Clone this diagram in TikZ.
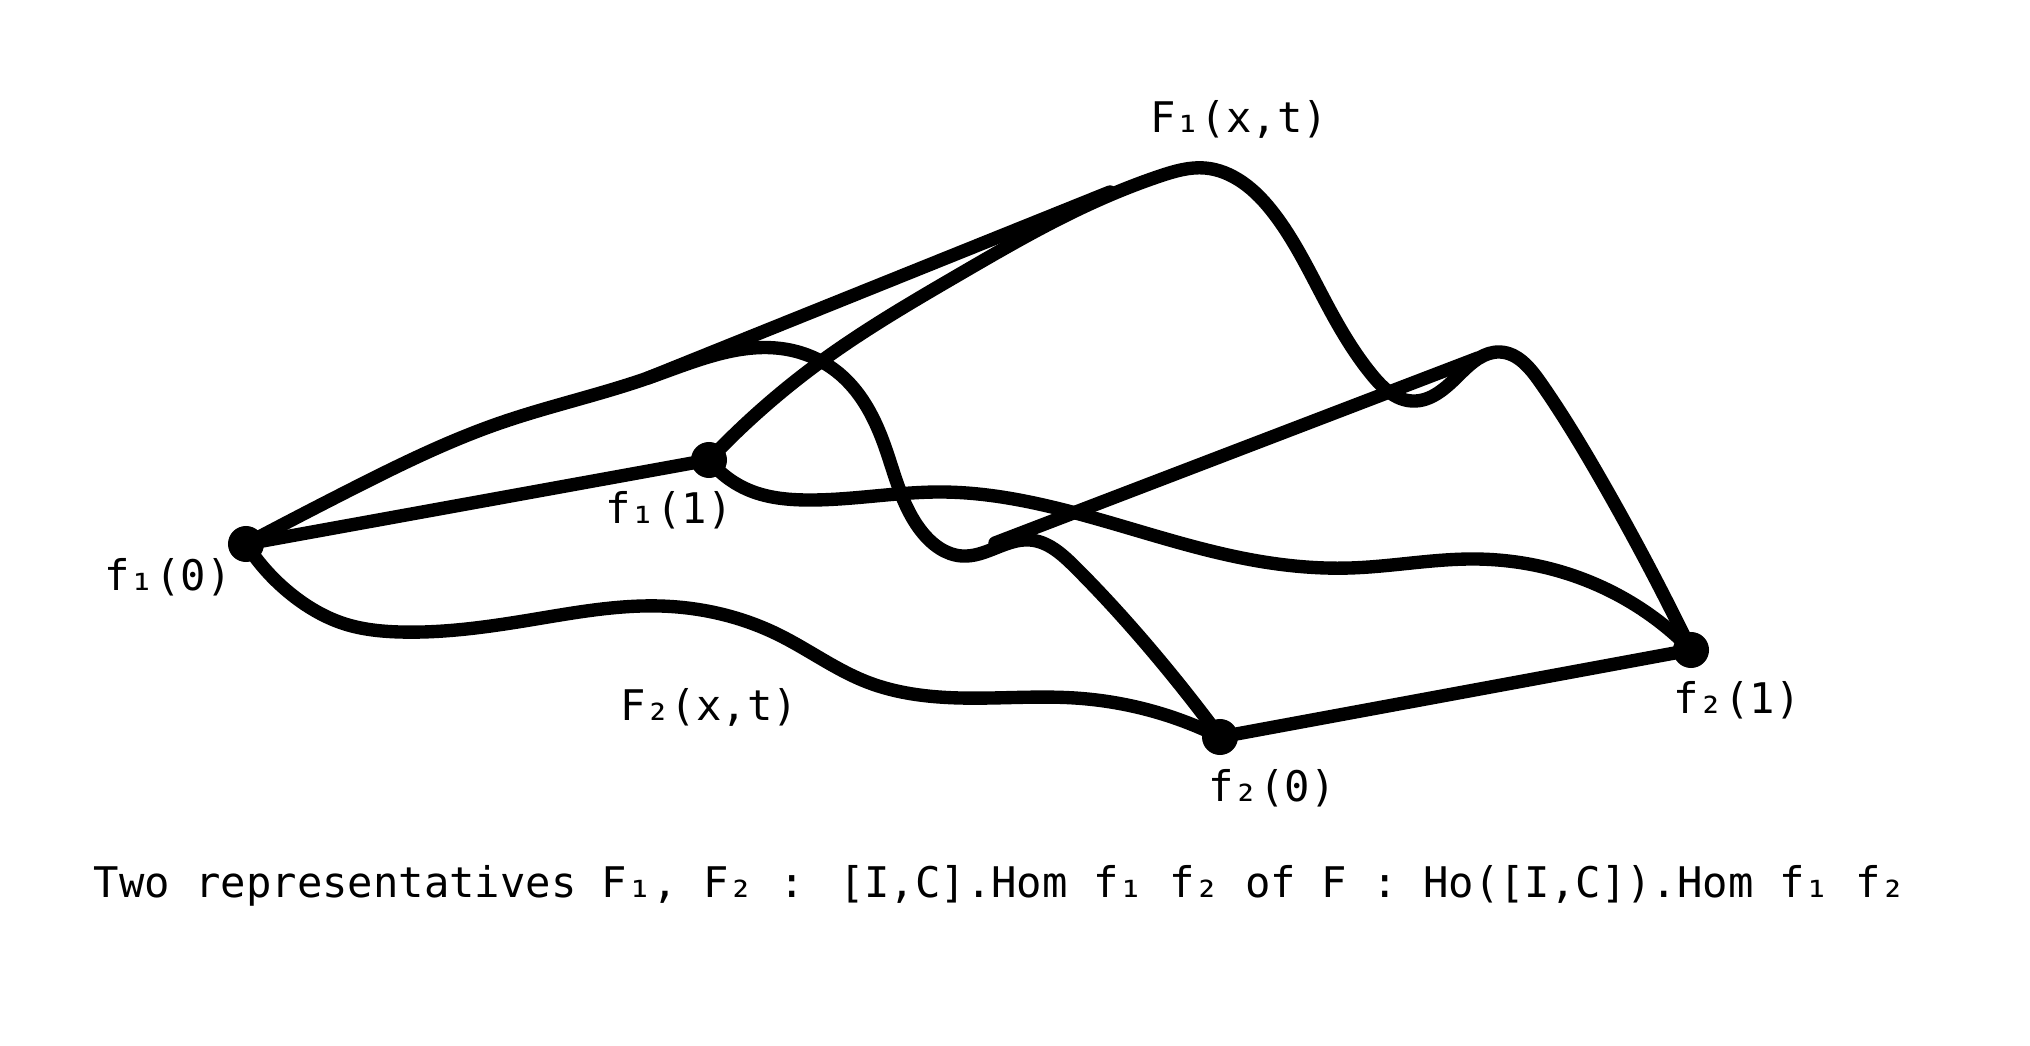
\documentclass[tikz,border=0pt]{standalone}
\usepackage{fontspec}
\newfontfamily\monofont{DejaVu Sans Mono}
\usetikzlibrary{calc,hobby}
\tikzset{every picture/.style={line width=3.8pt}}
\tikzset{
  dot/.style={circle, fill=black, inner sep=0pt, minimum size=0.36cm},
  hom/.style={line width=3.8pt, line cap=round, line join=round, use Hobby shortcut},
  lbl/.style={font=\monofont\fontsize{12}{14}\selectfont, inner sep=0pt},
}

\begin{document}
\begin{tikzpicture}[x=0.01cm, y=-0.01cm]
    \useasboundingbox (0,0) rectangle (2030,1046);

    % 四个端点
    \node[dot] (f10) at (246,544) {};
    \node[dot] (f11) at (709,460) {};
    \node[dot] (f20) at (1220,737) {};
    \node[dot] (f21) at (1691,650) {};

    % f1 与 f2
    \draw[hom] (f10.center) -- (f11.center);
    \draw[hom] (f20.center) -- (f21.center);

    % F1 的两条边
    \draw[hom] (f10.center) .. (350,490) .. (500,423) .. (648,378) .. (790,350) .. (842,376)
        .. (884,444) .. (922,532) .. (962,556) .. (1030,540) .. (1075,567) .. (1152,651)
        .. (f20.center);
    \draw[hom] (f11.center) .. (823,360) .. (960,274) .. (1075,211) .. (1160,176) .. (1205,168)
        .. (1242,182) .. (1275,215) .. (1324,299) .. (1372,375) .. (1412,401) .. (1460,374)
        .. (1500,352) .. (1540,382) .. (1600,478) .. (f21.center);

    % F1 的中间直线
    \coordinate (a0) at (648,378);
    \coordinate (a1) at (1110,192);
    \draw[line width=3.8pt, line cap=round] (a0) -- (a1);
    \coordinate (b0) at (995,543);
    \coordinate (b1) at (1478,358);
    \draw[line width=3.8pt, line cap=round] (b0) -- (b1);

    % F2 的两条边
    \draw[hom] (f10.center) .. (296,598) .. (345,624) .. (400,632) .. (530,620) .. (660,606)
        .. (777,634) .. (867,682) .. (960,698) .. (1075,698) .. (f20.center);
    \draw[hom] (f11.center) .. (751,491) .. (807,500) .. (941,492) .. (1056,508) .. (1247,559)
        .. (1350,568) .. (1475,559) .. (1616,594) .. (f21.center);

    % 标注
    \node[lbl] (l10) at (168,577) {f₁(0)};
    \node[lbl] (l11) at (669,510) {f₁(1)};
    \node[lbl] (l20) at (1272,788) {f₂(0)};
    \node[lbl] (l21) at (1737,700) {f₂(1)};
    \node[lbl] (lF1) at (1239,119) {F₁(x,t)};
    \node[lbl] (lF2) at (709,707) {F₂(x,t)};

    % 说明文字
    \node[lbl] (cap) at (1000,886) {Two representatives F₁, F₂ : [I,C].Hom f₁ f₂ of F : Ho([I,C]).Hom f₁ f₂};
\end{tikzpicture}
\end{document}
